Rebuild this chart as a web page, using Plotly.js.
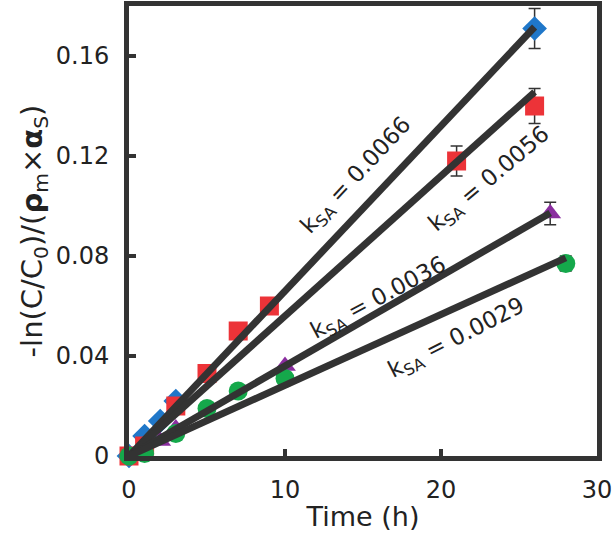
<!DOCTYPE html>
<html>
<head>
<meta charset="utf-8">
<script src="https://cdn.plot.ly/plotly-3.0.1.min.js"></script>
<style>html,body{margin:0;padding:0;background:#fff}#chart{width:615px;height:544px}</style>
</head>
<body>
<div id="chart"></div>
<script>
// Data
var blueX = [0, 1, 2, 3, 26];
var blueY = [0, 0.008, 0.014, 0.022, 0.171];
var blueErr = [0, 0, 0, 0, 0.008];

var redX = [0, 1, 3, 5, 7, 9, 21, 26];
var redY = [0, 0.004, 0.020, 0.033, 0.050, 0.060, 0.118, 0.140];
var redErr = [0, 0, 0, 0, 0, 0, 0.006, 0.007];

var purpleX = [0, 1, 2, 3, 10, 27];
var purpleY = [-0.002, 0.001, 0.006, 0.011, 0.036, 0.097];
var purpleErr = [0, 0, 0, 0, 0, 0.0045];

var greenX = [0, 1, 3, 5, 7, 10, 28];
var greenY = [0, 0.001, 0.009, 0.019, 0.026, 0.031, 0.077];
var greenErr = [0, 0, 0, 0, 0, 0, 0.003];

var slopes = [0.0066, 0.0056, 0.0036, 0.00283];
var fitEnds = [26, 26, 27, 28];
var labels = ["k<sub>SA</sub> = 0.0066", "k<sub>SA</sub> = 0.0056", "k<sub>SA</sub> = 0.0036", "k<sub>SA</sub> = 0.0029"];

var xTicks = [0, 10, 20, 30];
var yTicks = [0, 0.04, 0.08, 0.12, 0.16];
var yTickText = ["0", "0.04", "0.08", "0.12", "0.16"];

var FONT = 'DejaVu Sans, sans-serif';

function pts(x, y, err, sym, color) {
  return {
    x: x, y: y, type: 'scatter', mode: 'markers', cliponaxis: false,
    marker: {symbol: sym, size: 19, color: color, line: {width: 0}},
    error_y: {type: 'data', array: err, visible: true, color: '#333', thickness: 1.5, width: 6},
    showlegend: false, hoverinfo: 'skip'
  };
}

var traces = [
  pts(blueX, blueY, blueErr, 'diamond', '#1f77c9'),
  pts(redX, redY, redErr, 'square', '#ec3338'),
  pts(purpleX, purpleY, purpleErr, 'triangle-up', '#8a2d9f'),
  pts(greenX, greenY, greenErr, 'circle', '#15a84b')
];
for (var i = 0; i < slopes.length; i++) {
  traces.push({
    x: [0, fitEnds[i]], y: [0, slopes[i] * fitEnds[i]],
    type: 'scatter', mode: 'lines', cliponaxis: false,
    line: {color: '#333333', width: 7}, showlegend: false, hoverinfo: 'skip'
  });
}

var annPos = [
  {x: 14.6, y: 0.112, a: -47},
  {x: 23.1, y: 0.1105, a: -40},
  {x: 16.0, y: 0.063, a: -28},
  {x: 21.0, y: 0.047, a: -27}
];
var annotations = annPos.map(function (p, i) {
  return {x: p.x, y: p.y, xref: 'x', yref: 'y', text: labels[i], showarrow: false,
    textangle: p.a, font: {family: FONT, size: 23, color: '#222'}};
});

var layout = {
  width: 615, height: 544,
  margin: {l: 129, r: 18, t: 6, b: 88},
  paper_bgcolor: '#fff', plot_bgcolor: '#fff',
  font: {family: FONT, color: '#222'},
  xaxis: {
    range: [0, 30], tickvals: xTicks, ticks: 'inside', ticklen: 7, tickwidth: 4, tickcolor: '#333',
    showline: true, linewidth: 5, linecolor: '#333', mirror: true, showgrid: false, zeroline: false,
    tickfont: {size: 24}, ticklabelstandoff: 8,
    title: {text: 'Time (h)', font: {size: 27}, standoff: 6}
  },
  yaxis: {
    range: [0, 0.18], tickvals: yTicks, ticktext: yTickText, ticks: 'inside', ticklen: 7, tickwidth: 4, tickcolor: '#333',
    showline: true, linewidth: 5, linecolor: '#333', mirror: true, showgrid: false, zeroline: false,
    tickfont: {size: 24}, ticklabelstandoff: 10,
    title: {text: '-ln(C/C<sub>0</sub>)/(<b>ρ</b><sub>m</sub>×<b>α</b><sub>S</sub>)', font: {size: 29}, standoff: 6}
  },
  annotations: annotations
};

Plotly.newPlot('chart', traces, layout, {staticPlot: true, displayModeBar: false});
</script>
</body>
</html>
